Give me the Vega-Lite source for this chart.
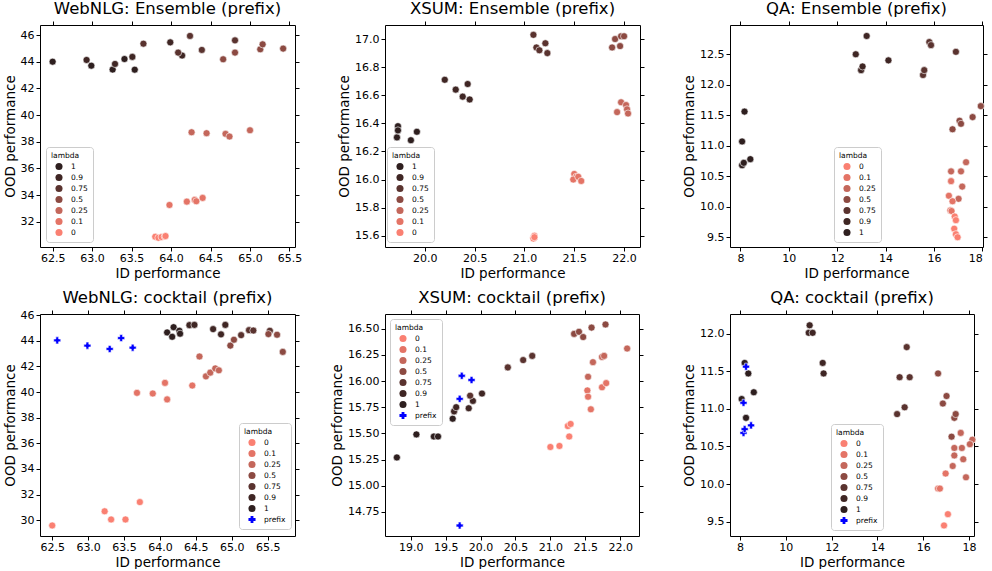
{
  "$schema": "https://vega.github.io/schema/vega-lite/v6.json",
  "padding": {"left": 2, "top": 0, "right": 2, "bottom": 0},
  "background": "white",
  "config": {
    "font": "DejaVu Sans",
    "view": {"stroke": "black", "strokeWidth": 1},
    "axis": {"domain": false, "grid": false, "tickColor": "black", "tickSize": 4, "tickWidth": 1, "labelColor": "black", "labelFontSize": 11, "titleFontSize": 13.5, "titleFontWeight": "normal", "titleColor": "black", "labelPadding": 2, "titlePadding": 3},
    "axisBottom": {"titlePadding": 3, "labelPadding": 1},
    "title": {"fontSize": 16.5, "fontWeight": "normal", "color": "black", "offset": 3, "frame": "group"},
    "legend": {"titleFontSize": 7.5, "titleFontWeight": "normal", "titleColor": "black", "labelFontSize": 7.5, "labelColor": "black", "symbolSize": 50, "rowPadding": 3, "padding": 5, "strokeColor": "#cccccc", "fillColor": "white", "cornerRadius": 3, "labelOffset": 8, "symbolOffset": 4, "titlePadding": 3, "symbolStrokeWidth": 0}
  },
  "datasets": {
    "p1": [
      {"x": 62.5, "y": 44.0, "l": "1"}, {"x": 62.99, "y": 43.7, "l": "1"}, {"x": 63.26, "y": 43.41, "l": "1"}, {"x": 63.41, "y": 44.2, "l": "1"}, {"x": 63.54, "y": 43.4, "l": "1"},
      {"x": 62.93, "y": 44.13, "l": "0.9"}, {"x": 63.29, "y": 43.83, "l": "0.9"}, {"x": 63.51, "y": 44.36, "l": "0.9"}, {"x": 63.99, "y": 45.45, "l": "0.9"}, {"x": 64.14, "y": 44.46, "l": "0.9"},
      {"x": 63.65, "y": 45.35, "l": "0.75"}, {"x": 64.09, "y": 44.68, "l": "0.75"}, {"x": 64.24, "y": 45.93, "l": "0.75"}, {"x": 64.39, "y": 44.88, "l": "0.75"}, {"x": 64.81, "y": 45.6, "l": "0.75"},
      {"x": 64.66, "y": 44.18, "l": "0.5"}, {"x": 64.81, "y": 44.68, "l": "0.5"}, {"x": 65.13, "y": 44.93, "l": "0.5"}, {"x": 65.16, "y": 45.3, "l": "0.5"}, {"x": 65.42, "y": 44.98, "l": "0.5"},
      {"x": 64.26, "y": 38.71, "l": "0.25"}, {"x": 64.45, "y": 38.64, "l": "0.25"}, {"x": 64.69, "y": 38.59, "l": "0.25"}, {"x": 64.74, "y": 38.39, "l": "0.25"}, {"x": 65.0, "y": 38.86, "l": "0.25"},
      {"x": 63.98, "y": 33.26, "l": "0.1"}, {"x": 64.2, "y": 33.51, "l": "0.1"}, {"x": 64.3, "y": 33.64, "l": "0.1"}, {"x": 64.32, "y": 33.54, "l": "0.1"}, {"x": 64.4, "y": 33.79, "l": "0.1"},
      {"x": 63.8, "y": 30.88, "l": "0"}, {"x": 63.84, "y": 30.8, "l": "0"}, {"x": 63.88, "y": 30.86, "l": "0"}, {"x": 63.92, "y": 30.9, "l": "0"}, {"x": 63.93, "y": 30.93, "l": "0"}
    ],
    "p2": [
      {"x": 19.72, "y": 16.3, "l": "1"}, {"x": 19.73, "y": 16.38, "l": "1"}, {"x": 19.73, "y": 16.35, "l": "1"}, {"x": 19.86, "y": 16.28, "l": "1"}, {"x": 19.92, "y": 16.34, "l": "1"},
      {"x": 20.2, "y": 16.71, "l": "0.9"}, {"x": 20.31, "y": 16.64, "l": "0.9"}, {"x": 20.38, "y": 16.59, "l": "0.9"}, {"x": 20.43, "y": 16.68, "l": "0.9"}, {"x": 20.45, "y": 16.57, "l": "0.9"},
      {"x": 21.09, "y": 17.03, "l": "0.75"}, {"x": 21.12, "y": 16.94, "l": "0.75"}, {"x": 21.15, "y": 16.92, "l": "0.75"}, {"x": 21.21, "y": 16.97, "l": "0.75"}, {"x": 21.23, "y": 16.9, "l": "0.75"},
      {"x": 21.88, "y": 16.94, "l": "0.5"}, {"x": 21.91, "y": 17.0, "l": "0.5"}, {"x": 21.96, "y": 16.95, "l": "0.5"}, {"x": 21.97, "y": 17.02, "l": "0.5"}, {"x": 22.0, "y": 17.02, "l": "0.5"},
      {"x": 21.97, "y": 16.55, "l": "0.25"}, {"x": 22.02, "y": 16.53, "l": "0.25"}, {"x": 21.93, "y": 16.48, "l": "0.25"}, {"x": 22.03, "y": 16.5, "l": "0.25"}, {"x": 22.04, "y": 16.47, "l": "0.25"},
      {"x": 21.5, "y": 16.04, "l": "0.1"}, {"x": 21.52, "y": 16.02, "l": "0.1"}, {"x": 21.49, "y": 16.0, "l": "0.1"}, {"x": 21.54, "y": 16.02, "l": "0.1"}, {"x": 21.57, "y": 15.99, "l": "0.1"},
      {"x": 21.09, "y": 15.59, "l": "0"}, {"x": 21.1, "y": 15.59, "l": "0"}, {"x": 21.09, "y": 15.58, "l": "0"}, {"x": 21.1, "y": 15.6, "l": "0"}, {"x": 21.1, "y": 15.59, "l": "0"}
    ],
    "p3": [
      {"x": 8.07, "y": 11.07, "l": "1"}, {"x": 8.17, "y": 11.56, "l": "1"}, {"x": 8.07, "y": 10.68, "l": "1"}, {"x": 8.14, "y": 10.72, "l": "1"}, {"x": 8.41, "y": 10.78, "l": "1"},
      {"x": 12.77, "y": 12.5, "l": "0.9"}, {"x": 12.99, "y": 12.24, "l": "0.9"}, {"x": 13.05, "y": 12.3, "l": "0.9"}, {"x": 13.22, "y": 12.8, "l": "0.9"}, {"x": 14.12, "y": 12.4, "l": "0.9"},
      {"x": 15.55, "y": 12.16, "l": "0.75"}, {"x": 15.6, "y": 12.24, "l": "0.75"}, {"x": 15.81, "y": 12.7, "l": "0.75"}, {"x": 15.88, "y": 12.65, "l": "0.75"}, {"x": 16.91, "y": 12.54, "l": "0.75"},
      {"x": 16.77, "y": 11.27, "l": "0.5"}, {"x": 17.06, "y": 11.41, "l": "0.5"}, {"x": 17.12, "y": 11.36, "l": "0.5"}, {"x": 17.6, "y": 11.47, "l": "0.5"}, {"x": 17.94, "y": 11.65, "l": "0.5"},
      {"x": 16.71, "y": 10.58, "l": "0.25"}, {"x": 17.12, "y": 10.58, "l": "0.25"}, {"x": 17.17, "y": 10.33, "l": "0.25"}, {"x": 17.02, "y": 10.13, "l": "0.25"}, {"x": 17.33, "y": 10.73, "l": "0.25"},
      {"x": 16.71, "y": 10.42, "l": "0.1"}, {"x": 16.62, "y": 10.18, "l": "0.1"}, {"x": 16.77, "y": 10.09, "l": "0.1"}, {"x": 16.68, "y": 9.94, "l": "0.1"}, {"x": 16.73, "y": 9.93, "l": "0.1"},
      {"x": 16.86, "y": 9.84, "l": "0"}, {"x": 16.91, "y": 9.78, "l": "0"}, {"x": 16.84, "y": 9.64, "l": "0"}, {"x": 16.91, "y": 9.55, "l": "0"}, {"x": 16.98, "y": 9.5, "l": "0"}
    ],
    "p4": [
      {"x": 64.1, "y": 44.66, "l": "1"}, {"x": 64.17, "y": 44.32, "l": "1"}, {"x": 64.19, "y": 45.07, "l": "1"}, {"x": 64.27, "y": 44.79, "l": "1"}, {"x": 64.28, "y": 44.56, "l": "1"},
      {"x": 64.41, "y": 45.23, "l": "0.9"}, {"x": 64.48, "y": 45.25, "l": "0.9"}, {"x": 64.74, "y": 44.92, "l": "0.9"}, {"x": 64.85, "y": 44.51, "l": "0.9"}, {"x": 64.91, "y": 45.25, "l": "0.9"},
      {"x": 65.24, "y": 44.84, "l": "0.75"}, {"x": 65.3, "y": 44.81, "l": "0.75"}, {"x": 65.53, "y": 44.79, "l": "0.75"}, {"x": 65.13, "y": 44.45, "l": "0.75"},
      {"x": 64.98, "y": 43.63, "l": "0.5"}, {"x": 65.03, "y": 44.09, "l": "0.5"}, {"x": 65.51, "y": 44.53, "l": "0.5"}, {"x": 65.63, "y": 44.48, "l": "0.5"}, {"x": 65.71, "y": 43.14, "l": "0.5"},
      {"x": 64.55, "y": 42.78, "l": "0.25"}, {"x": 64.64, "y": 41.23, "l": "0.25"}, {"x": 64.7, "y": 41.52, "l": "0.25"}, {"x": 64.77, "y": 41.85, "l": "0.25"}, {"x": 64.82, "y": 41.7, "l": "0.25"},
      {"x": 63.68, "y": 39.94, "l": "0.1"}, {"x": 63.9, "y": 39.89, "l": "0.1"}, {"x": 64.07, "y": 40.72, "l": "0.1"}, {"x": 64.1, "y": 39.43, "l": "0.1"}, {"x": 64.45, "y": 40.51, "l": "0.1"},
      {"x": 62.5, "y": 29.58, "l": "0"}, {"x": 63.23, "y": 30.69, "l": "0"}, {"x": 63.32, "y": 30.05, "l": "0"}, {"x": 63.52, "y": 30.05, "l": "0"}, {"x": 63.72, "y": 31.41, "l": "0"},
      {"x": 62.57, "y": 44.04, "l": "prefix"}, {"x": 62.99, "y": 43.63, "l": "prefix"}, {"x": 63.3, "y": 43.37, "l": "prefix"}, {"x": 63.46, "y": 44.22, "l": "prefix"}, {"x": 63.62, "y": 43.47, "l": "prefix"}
    ],
    "p5": [
      {"x": 18.8, "y": 15.27, "l": "1"}, {"x": 19.08, "y": 15.49, "l": "1"}, {"x": 19.33, "y": 15.47, "l": "1"}, {"x": 19.39, "y": 15.47, "l": "1"}, {"x": 19.6, "y": 15.64, "l": "1"},
      {"x": 19.62, "y": 15.71, "l": "0.9"}, {"x": 19.65, "y": 15.75, "l": "0.9"}, {"x": 19.83, "y": 15.74, "l": "0.9"}, {"x": 19.89, "y": 15.81, "l": "0.9"}, {"x": 20.02, "y": 15.88, "l": "0.9"},
      {"x": 19.85, "y": 15.86, "l": "0.75"}, {"x": 20.39, "y": 16.13, "l": "0.75"}, {"x": 20.61, "y": 16.2, "l": "0.75"}, {"x": 20.74, "y": 16.24, "l": "0.75"},
      {"x": 21.34, "y": 16.45, "l": "0.5"}, {"x": 21.41, "y": 16.47, "l": "0.5"}, {"x": 21.47, "y": 16.42, "l": "0.5"}, {"x": 21.59, "y": 16.51, "l": "0.5"}, {"x": 21.79, "y": 16.54, "l": "0.5"},
      {"x": 21.61, "y": 16.18, "l": "0.25"}, {"x": 21.74, "y": 16.23, "l": "0.25"}, {"x": 21.77, "y": 16.24, "l": "0.25"}, {"x": 21.54, "y": 16.04, "l": "0.25"}, {"x": 22.1, "y": 16.31, "l": "0.25"},
      {"x": 21.53, "y": 15.91, "l": "0.1"}, {"x": 21.54, "y": 15.85, "l": "0.1"}, {"x": 21.58, "y": 15.73, "l": "0.1"}, {"x": 21.74, "y": 15.94, "l": "0.1"}, {"x": 21.8, "y": 15.98, "l": "0.1"},
      {"x": 21.0, "y": 15.37, "l": "0"}, {"x": 21.13, "y": 15.38, "l": "0"}, {"x": 21.25, "y": 15.57, "l": "0"}, {"x": 21.29, "y": 15.59, "l": "0"}, {"x": 21.27, "y": 15.47, "l": "0"},
      {"x": 19.73, "y": 16.05, "l": "prefix"}, {"x": 19.87, "y": 16.01, "l": "prefix"}, {"x": 19.7, "y": 15.83, "l": "prefix"}, {"x": 19.7, "y": 14.62, "l": "prefix"}
    ],
    "p6": [
      {"x": 8.07, "y": 11.13, "l": "1"}, {"x": 8.2, "y": 11.61, "l": "1"}, {"x": 8.36, "y": 11.47, "l": "1"}, {"x": 8.6, "y": 11.22, "l": "1"}, {"x": 8.26, "y": 10.88, "l": "1"},
      {"x": 11.04, "y": 12.11, "l": "0.9"}, {"x": 11.0, "y": 12.01, "l": "0.9"}, {"x": 11.17, "y": 12.01, "l": "0.9"}, {"x": 11.61, "y": 11.61, "l": "0.9"}, {"x": 11.65, "y": 11.47, "l": "0.9"},
      {"x": 15.28, "y": 11.82, "l": "0.75"}, {"x": 14.97, "y": 11.42, "l": "0.75"}, {"x": 15.41, "y": 11.42, "l": "0.75"}, {"x": 15.19, "y": 11.02, "l": "0.75"}, {"x": 14.86, "y": 10.93, "l": "0.75"},
      {"x": 16.65, "y": 11.47, "l": "0.5"}, {"x": 17.02, "y": 11.17, "l": "0.5"}, {"x": 16.86, "y": 11.07, "l": "0.5"}, {"x": 17.36, "y": 10.88, "l": "0.5"}, {"x": 17.42, "y": 10.93, "l": "0.5"}, {"x": 17.24, "y": 10.63, "l": "0.5"},
      {"x": 17.64, "y": 10.68, "l": "0.25"}, {"x": 17.36, "y": 10.48, "l": "0.25"}, {"x": 17.69, "y": 10.48, "l": "0.25"}, {"x": 18.15, "y": 10.59, "l": "0.25"}, {"x": 18.04, "y": 10.53, "l": "0.25"}, {"x": 17.75, "y": 10.33, "l": "0.25"}, {"x": 17.36, "y": 10.38, "l": "0.25"}, {"x": 17.29, "y": 10.24, "l": "0.25"}, {"x": 17.87, "y": 10.09, "l": "0.25"},
      {"x": 16.98, "y": 10.14, "l": "0.1"}, {"x": 16.65, "y": 9.94, "l": "0.1"}, {"x": 16.73, "y": 9.94, "l": "0.1"},
      {"x": 17.08, "y": 9.6, "l": "0"}, {"x": 16.91, "y": 9.45, "l": "0"},
      {"x": 8.15, "y": 11.08, "l": "prefix"}, {"x": 8.26, "y": 11.56, "l": "prefix"}, {"x": 8.15, "y": 10.68, "l": "prefix"}, {"x": 8.2, "y": 10.73, "l": "prefix"}, {"x": 8.48, "y": 10.78, "l": "prefix"}
    ]
  },
  "columns": 3,
  "spacing": {"row": 67, "column": 90},
  "bounds": "flush",
  "concat": [
    {
      "title": "WebNLG: Ensemble (prefix)", "width": 255, "height": 222,
      "data": {"name": "p1"},
      "layer": [
        {"mark": {"type": "point", "filled": true, "size": 50, "stroke": "white", "strokeWidth": 0.6, "opacity": 1},
         "encoding": {
           "x": {"field": "x", "type": "quantitative", "scale": {"domain": [62.34, 65.57], "nice": false, "zero": false}, "axis": {"values": [62.5, 63, 63.5, 64, 64.5, 65, 65.5], "format": ".1f", "title": "ID performance"}},
           "y": {"field": "y", "type": "quantitative", "scale": {"domain": [30.11, 46.75], "nice": false, "zero": false}, "axis": {"values": [32, 34, 36, 38, 40, 42, 44, 46], "format": "d", "title": "OOD performance"}},
           "color": {"field": "l", "type": "nominal", "scale": {"domain": ["1", "0.9", "0.75", "0.5", "0.25", "0.1", "0"], "range": ["#2e1f1f", "#3f2624", "#5a332f", "#8c4a42", "#c4675b", "#e47466", "#fa8072"]}, "legend": {"title": "lambda", "orient": "none", "legendX": 6, "legendY": 122}}
         }},
        {"mark": {"type": "point", "opacity": 0},
         "encoding": {
           "x": {"field": "x", "type": "quantitative", "axis": {"orient": "top", "labels": false, "title": null, "values": [62.5, 63, 63.5, 64, 64.5, 65, 65.5]}},
           "y": {"field": "y", "type": "quantitative", "axis": {"orient": "right", "labels": false, "title": null, "values": [32, 34, 36, 38, 40, 42, 44, 46]}}
         }}
      ],
      "resolve": {"axis": {"x": "independent", "y": "independent"}}
    },
    {
      "title": "XSUM: Ensemble (prefix)", "width": 255, "height": 222,
      "data": {"name": "p2"},
      "layer": [
        {"mark": {"type": "point", "filled": true, "size": 50, "stroke": "white", "strokeWidth": 0.6, "opacity": 1},
         "encoding": {
           "x": {"field": "x", "type": "quantitative", "scale": {"domain": [19.6, 22.16], "nice": false, "zero": false}, "axis": {"values": [20, 20.5, 21, 21.5, 22], "format": ".1f", "title": "ID performance"}},
           "y": {"field": "y", "type": "quantitative", "scale": {"domain": [15.52, 17.1], "nice": false, "zero": false}, "axis": {"values": [15.6, 15.8, 16.0, 16.2, 16.4, 16.6, 16.8, 17.0], "format": ".1f", "title": "OOD performance"}},
           "color": {"field": "l", "type": "nominal", "scale": {"domain": ["1", "0.9", "0.75", "0.5", "0.25", "0.1", "0"], "range": ["#2e1f1f", "#3f2624", "#5a332f", "#8c4a42", "#c4675b", "#e47466", "#fa8072"]}, "legend": {"title": "lambda", "orient": "none", "legendX": 2, "legendY": 122}}
         }},
        {"mark": {"type": "point", "opacity": 0},
         "encoding": {
           "x": {"field": "x", "type": "quantitative", "axis": {"orient": "top", "labels": false, "title": null, "values": [20, 20.5, 21, 21.5, 22]}},
           "y": {"field": "y", "type": "quantitative", "axis": {"orient": "right", "labels": false, "title": null, "values": [15.6, 15.8, 16.0, 16.2, 16.4, 16.6, 16.8, 17.0]}}
         }}
      ],
      "resolve": {"axis": {"x": "independent", "y": "independent"}}
    },
    {
      "title": "QA: Ensemble (prefix)", "width": 253, "height": 222,
      "data": {"name": "p3"},
      "layer": [
        {"mark": {"type": "point", "filled": true, "size": 50, "stroke": "white", "strokeWidth": 0.6, "opacity": 1},
         "encoding": {
           "x": {"field": "x", "type": "quantitative", "scale": {"domain": [7.57, 18.03], "nice": false, "zero": false}, "axis": {"values": [8, 10, 12, 14, 16, 18], "format": "d", "title": "ID performance"}},
           "y": {"field": "y", "type": "quantitative", "scale": {"domain": [9.34, 12.98], "nice": false, "zero": false}, "axis": {"values": [9.5, 10, 10.5, 11, 11.5, 12, 12.5], "format": ".1f", "title": "OOD performance"}},
           "color": {"field": "l", "type": "nominal", "scale": {"domain": ["0", "0.1", "0.25", "0.5", "0.75", "0.9", "1"], "range": ["#fa8072", "#e47466", "#c4675b", "#8c4a42", "#5a332f", "#3f2624", "#2e1f1f"]}, "legend": {"title": "lambda", "orient": "none", "legendX": 104, "legendY": 122}}
         }},
        {"mark": {"type": "point", "opacity": 0},
         "encoding": {
           "x": {"field": "x", "type": "quantitative", "axis": {"orient": "top", "labels": false, "title": null, "values": [8, 10, 12, 14, 16, 18]}},
           "y": {"field": "y", "type": "quantitative", "axis": {"orient": "right", "labels": false, "title": null, "values": [9.5, 10, 10.5, 11, 11.5, 12, 12.5]}}
         }}
      ],
      "resolve": {"axis": {"x": "independent", "y": "independent"}}
    },
    {
      "title": "WebNLG: cocktail (prefix)", "width": 255, "height": 222,
      "data": {"name": "p4"},
      "layer": [
        {"mark": {"type": "point", "filled": true, "size": 50, "stroke": "white", "strokeWidth": 0.6, "opacity": 1},
         "encoding": {
           "x": {"field": "x", "type": "quantitative", "scale": {"domain": [62.33, 65.88], "nice": false, "zero": false}, "axis": {"values": [62.5, 63, 63.5, 64, 64.5, 65, 65.5], "format": ".1f", "title": "ID performance"}},
           "y": {"field": "y", "type": "quantitative", "scale": {"domain": [28.76, 46.1], "nice": false, "zero": false}, "axis": {"values": [30, 32, 34, 36, 38, 40, 42, 44, 46], "format": "d", "title": "OOD performance"}},
           "color": {"field": "l", "type": "nominal", "scale": {"domain": ["0", "0.1", "0.25", "0.5", "0.75", "0.9", "1", "prefix"], "range": ["#fa8072", "#e47466", "#c4675b", "#8c4a42", "#5a332f", "#3f2624", "#2e1f1f", "#0000ff"]}, "legend": {"title": "lambda", "orient": "none", "legendX": 199, "legendY": 109}},
           "shape": {"field": "l", "type": "nominal", "scale": {"domain": ["0", "0.1", "0.25", "0.5", "0.75", "0.9", "1", "prefix"], "range": ["circle", "circle", "circle", "circle", "circle", "circle", "circle", "cross"]}, "legend": {"title": "lambda", "orient": "none", "legendX": 199, "legendY": 109}}
         }},
        {"mark": {"type": "point", "opacity": 0},
         "encoding": {
           "x": {"field": "x", "type": "quantitative", "axis": {"orient": "top", "labels": false, "title": null, "values": [62.5, 63, 63.5, 64, 64.5, 65, 65.5]}},
           "y": {"field": "y", "type": "quantitative", "axis": {"orient": "right", "labels": false, "title": null, "values": [30, 32, 34, 36, 38, 40, 42, 44, 46]}}
         }}
      ],
      "resolve": {"axis": {"x": "independent", "y": "independent"}}
    },
    {
      "title": "XSUM: cocktail (prefix)", "width": 254, "height": 222,
      "data": {"name": "p5"},
      "layer": [
        {"mark": {"type": "point", "filled": true, "size": 50, "stroke": "white", "strokeWidth": 0.6, "opacity": 1},
         "encoding": {
           "x": {"field": "x", "type": "quantitative", "scale": {"domain": [18.63, 22.27], "nice": false, "zero": false}, "axis": {"values": [19, 19.5, 20, 20.5, 21, 21.5, 22], "format": ".1f", "title": "ID performance"}},
           "y": {"field": "y", "type": "quantitative", "scale": {"domain": [14.52, 16.64], "nice": false, "zero": false}, "axis": {"values": [14.75, 15, 15.25, 15.5, 15.75, 16, 16.25, 16.5], "format": ".2f", "title": "OOD performance"}},
           "color": {"field": "l", "type": "nominal", "scale": {"domain": ["0", "0.1", "0.25", "0.5", "0.75", "0.9", "1", "prefix"], "range": ["#fa8072", "#e47466", "#c4675b", "#8c4a42", "#5a332f", "#3f2624", "#2e1f1f", "#0000ff"]}, "legend": {"title": "lambda", "orient": "none", "legendX": 5, "legendY": 5}},
           "shape": {"field": "l", "type": "nominal", "scale": {"domain": ["0", "0.1", "0.25", "0.5", "0.75", "0.9", "1", "prefix"], "range": ["circle", "circle", "circle", "circle", "circle", "circle", "circle", "cross"]}, "legend": {"title": "lambda", "orient": "none", "legendX": 5, "legendY": 5}}
         }},
        {"mark": {"type": "point", "opacity": 0},
         "encoding": {
           "x": {"field": "x", "type": "quantitative", "axis": {"orient": "top", "labels": false, "title": null, "values": [19, 19.5, 20, 20.5, 21, 21.5, 22]}},
           "y": {"field": "y", "type": "quantitative", "axis": {"orient": "right", "labels": false, "title": null, "values": [14.75, 15, 15.25, 15.5, 15.75, 16, 16.25, 16.5]}}
         }}
      ],
      "resolve": {"axis": {"x": "independent", "y": "independent"}}
    },
    {
      "title": "QA: cocktail (prefix)", "width": 244, "height": 222,
      "data": {"name": "p6"},
      "layer": [
        {"mark": {"type": "point", "filled": true, "size": 50, "stroke": "white", "strokeWidth": 0.6, "opacity": 1},
         "encoding": {
           "x": {"field": "x", "type": "quantitative", "scale": {"domain": [7.56, 18.22], "nice": false, "zero": false}, "axis": {"values": [8, 10, 12, 14, 16, 18], "format": "d", "title": "ID performance"}},
           "y": {"field": "y", "type": "quantitative", "scale": {"domain": [9.31, 12.26], "nice": false, "zero": false}, "axis": {"values": [9.5, 10, 10.5, 11, 11.5, 12], "format": ".1f", "title": "OOD performance"}},
           "color": {"field": "l", "type": "nominal", "scale": {"domain": ["0", "0.1", "0.25", "0.5", "0.75", "0.9", "1", "prefix"], "range": ["#fa8072", "#e47466", "#c4675b", "#8c4a42", "#5a332f", "#3f2624", "#2e1f1f", "#0000ff"]}, "legend": {"title": "lambda", "orient": "none", "legendX": 101, "legendY": 110}},
           "shape": {"field": "l", "type": "nominal", "scale": {"domain": ["0", "0.1", "0.25", "0.5", "0.75", "0.9", "1", "prefix"], "range": ["circle", "circle", "circle", "circle", "circle", "circle", "circle", "cross"]}, "legend": {"title": "lambda", "orient": "none", "legendX": 101, "legendY": 110}}
         }},
        {"mark": {"type": "point", "opacity": 0},
         "encoding": {
           "x": {"field": "x", "type": "quantitative", "axis": {"orient": "top", "labels": false, "title": null, "values": [8, 10, 12, 14, 16, 18]}},
           "y": {"field": "y", "type": "quantitative", "axis": {"orient": "right", "labels": false, "title": null, "values": [9.5, 10, 10.5, 11, 11.5, 12]}}
         }}
      ],
      "resolve": {"axis": {"x": "independent", "y": "independent"}}
    }
  ],
  "resolve": {"scale": {"color": "independent", "shape": "independent"}, "legend": {"color": "independent", "shape": "independent"}}
}
